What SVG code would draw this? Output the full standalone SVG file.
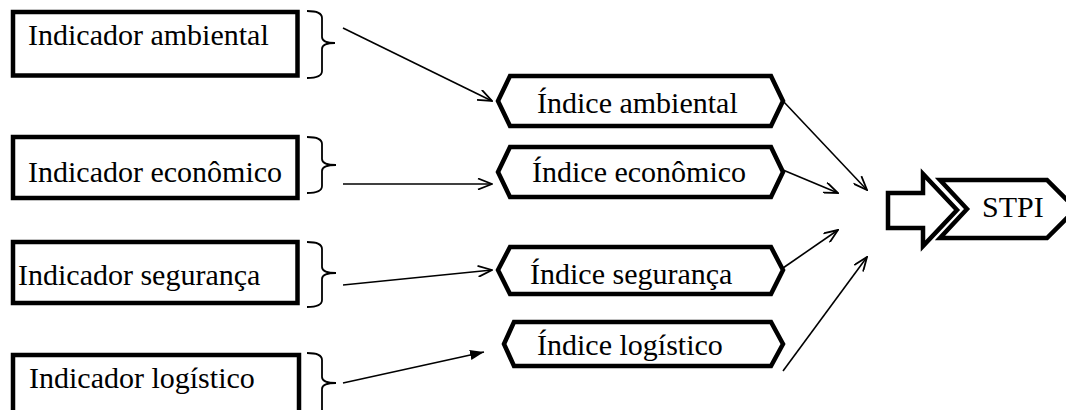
<svg xmlns="http://www.w3.org/2000/svg" width="1066" height="410" viewBox="0 0 1066 410">
<style>
.box{fill:#fff;stroke:#000;stroke-width:4.5}
.hex{fill:#fff;stroke:#000;stroke-width:4.5;stroke-linejoin:miter}
.brace{fill:none;stroke:#000;stroke-width:1.8}
.t{font-family:"Liberation Serif","Times New Roman",serif;font-size:30px;fill:#000}
.c{fill:none;stroke:#000;stroke-width:1.6}
</style>
<defs>
<marker id="open" viewBox="0 0 16 12" refX="15" refY="6" markerWidth="16" markerHeight="12" markerUnits="userSpaceOnUse" orient="auto">
<path d="M1,0.5 L15,6 L1,11.5" fill="none" stroke="#000" stroke-width="1.8"/>
</marker>
<marker id="filled" viewBox="0 0 14 10" refX="14" refY="5" markerWidth="14" markerHeight="10" markerUnits="userSpaceOnUse" orient="auto">
<path d="M0,0 L14,5 L0,10 z" fill="#000"/>
</marker>
</defs>

<g id="ind-ambiental">
<rect class="box" x="13" y="12" width="284.5" height="63.5"/>
<text class="t" x="28" y="45">Indicador ambiental</text>
<path class="brace" d="M307,11 Q322,11 322,18 L322,37 Q322,43 335,43 Q322,43 322,49 L322,71 Q322,78 307,78"/>
</g>
<g id="ind-economico">
<rect class="box" x="13" y="137" width="284.5" height="61"/>
<text class="t" x="28" y="182">Indicador econômico</text>
<path class="brace" d="M307,137 Q322,137 322,144 L322,159 Q322,165 336,165 Q322,165 322,171 L322,186 Q322,193 307,193"/>
</g>
<g id="ind-seguranca">
<rect class="box" x="13" y="242" width="284.5" height="61"/>
<text class="t" x="18" y="285">Indicador segurança</text>
<path class="brace" d="M307,242 Q322,242 322,249 L322,267 Q322,273 336,273 Q322,273 322,279 L322,300 Q322,307 307,307"/>
</g>
<g id="ind-logistico">
<rect class="box" x="13" y="355" width="286" height="70"/>
<text class="t" x="29" y="388">Indicador logístico</text>
<path class="brace" d="M307,353 Q322,353 322,360 L322,377 Q322,383 336,383 Q322,383 322,389 L322,420"/>
</g>

<g id="idx-ambiental">
<polygon class="hex" points="498,101 510,76 771,76 783,101 771,126 510,126"/>
<text class="t" x="537" y="113">Índice ambiental</text>
</g>
<g id="idx-economico">
<polygon class="hex" points="498,172 510,147 771,147 783,172 771,197 510,197"/>
<text class="t" x="532" y="182">Índice econômico</text>
</g>
<g id="idx-seguranca">
<polygon class="hex" points="498,270 510,247 771,247 783,270 771,294 510,294"/>
<text class="t" x="530" y="284">Índice segurança</text>
</g>
<g id="idx-logistico">
<polygon class="hex" points="504,344 514,322 771,322 783,344 771,366 514,366"/>
<text class="t" x="537" y="355">Índice logístico</text>
</g>

<g id="stpi">
<polygon class="hex" points="888,193 923,193 923,174 957,210 923,246 923,228 888,228"/>
<polygon class="hex" points="940,180 1047,180 1076,209 1047,238 940,238 967,209"/>
<text class="t" x="982" y="217">STPI</text>
</g>

<g id="connectors">
<line class="c" x1="343" y1="28" x2="492" y2="101" marker-end="url(#open)"/>
<line class="c" x1="343" y1="184" x2="492" y2="184" marker-end="url(#open)"/>
<line class="c" x1="343" y1="285" x2="492" y2="270" marker-end="url(#open)"/>
<line class="c" x1="343" y1="383" x2="484" y2="352" marker-end="url(#filled)"/>
<line class="c" x1="783" y1="101" x2="867" y2="190" marker-end="url(#open)"/>
<line class="c" x1="783" y1="170" x2="838" y2="193" marker-end="url(#open)"/>
<line class="c" x1="783" y1="268" x2="838" y2="230" marker-end="url(#open)"/>
<line class="c" x1="783" y1="371" x2="867" y2="257" marker-end="url(#open)"/>
</g>
</svg>
